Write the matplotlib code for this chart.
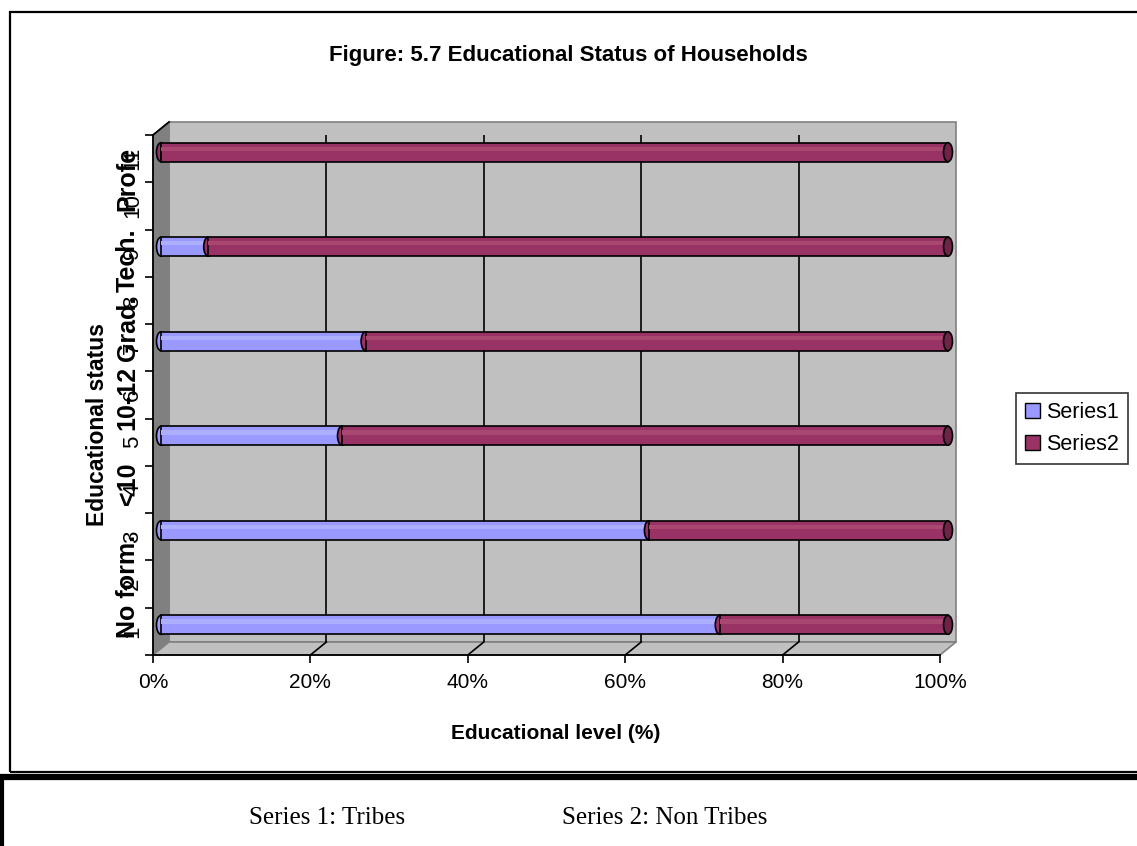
import matplotlib
matplotlib.use("Agg")
import matplotlib.pyplot as plt
import matplotlib.transforms as mtransforms
from matplotlib.patches import Polygon, Ellipse, Rectangle
from matplotlib.lines import Line2D

plt.rcParams['font.family'] = ['Liberation Sans', 'DejaVu Sans']

# data (percent of households in each group)
categories = [str(i) for i in range(1, 12)]
positions = [1, 3, 5, 7, 9, 11]
tribes = [71, 62, 23, 26, 6, 0]
non_tribes = [29, 38, 77, 74, 94, 100]
group_labels = ["No form.", "<10", "10-12", "Grad.", "Tech.", "Profe"]
group_label_y = [1.94, 4.12, 5.93, 7.41, 8.85, 10.58]
x_ticks = [0, 20, 40, 60, 80, 100]
x_tick_labels = ["0%", "20%", "40%", "60%", "80%", "100%"]

color1 = "#9999FF"
color2 = "#993366"
light1 = "#AEAEFF"
light2 = "#A8476F"
cap2 = "#6E2449"

W, H = 1137, 846
fig = plt.figure(figsize=(W / 100, H / 100), dpi=100)


def fx(px):
    return px / W


def fy(py):
    return 1 - py / H


ax = fig.add_axes([fx(153), fy(655), fx(940) - fx(153), fy(135) - fy(655)])
ax.set_xlim(0, 100)
ax.set_ylim(0.5, 11.5)
ax.patch.set_visible(False)
for side in ["top", "right"]:
    ax.spines[side].set_visible(False)
for side in ["left", "bottom"]:
    ax.spines[side].set_color("black")
    ax.spines[side].set_linewidth(1.3)
    ax.spines[side].set_zorder(5)

# depth of the 3d box in pixels
DX, DY = 16, 13
ident = mtransforms.IdentityTransform()


def shift(f):
    return ax.transData + mtransforms.Affine2D().translate(f * DX, f * DY)


def P(x, y, f):
    px, py = ax.transData.transform((x, y))
    return (px + f * DX, py + f * DY)


# walls and floor
ax.add_patch(Rectangle((0, 0.5), 100, 11, transform=shift(1), facecolor="#C0C0C0",
                       edgecolor="#808080", lw=1.2, zorder=0, clip_on=False))
ax.add_patch(Polygon([P(0, 0.5, 0), P(0, 11.5, 0), P(0, 11.5, 1), P(0, 0.5, 1)],
                     closed=True, transform=ident, facecolor="#808080",
                     edgecolor="#808080", lw=1, zorder=0.5, clip_on=False))
ax.add_patch(Polygon([P(0, 0.5, 0), P(100, 0.5, 0), P(100, 0.5, 1), P(0, 0.5, 1)],
                     closed=True, transform=ident, facecolor="#C0C0C0",
                     edgecolor="#808080", lw=1.2, zorder=0.5, clip_on=False))

# gridlines on the back wall and floor
ax.vlines(x_ticks[1:-1], 0.5, 11.5, transform=shift(1), colors="black", lw=1.2, zorder=1)
for xv in x_ticks[1:-1]:
    a, b = P(xv, 0.5, 0), P(xv, 0.5, 1)
    ax.add_line(Line2D([a[0], b[0]], [a[1], b[1]], transform=ident, color="black",
                       lw=1.2, zorder=1, clip_on=False))
a, b = P(0, 11.5, 0), P(0, 11.5, 1)
ax.add_line(Line2D([a[0], b[0]], [a[1], b[1]], transform=ident, color="black",
                   lw=1.3, zorder=5, clip_on=False))

# cylinder bars, 100% stacked
bar_h = 0.4
bh_px = P(0, bar_h, 0)[1] - P(0, 0, 0)[1]
cap_w = 9

ax.barh(positions, tribes, height=bar_h, color=color1, edgecolor="black", lw=1.2,
        transform=shift(0.5), zorder=3, clip_on=False)
ax.barh([p + 0.07 for p in positions], tribes, height=0.09, color=light1, lw=0,
        transform=shift(0.5), zorder=3.05, clip_on=False)
ax.barh(positions, non_tribes, left=tribes, height=bar_h, color=color2, edgecolor="black",
        lw=1.2, transform=shift(0.5), zorder=3.4, clip_on=False)
ax.barh([p + 0.07 for p in positions], non_tribes, left=tribes, height=0.09, color=light2,
        lw=0, transform=shift(0.5), zorder=3.45, clip_on=False)

for pos, t, n in zip(positions, tribes, non_tribes):
    first = color1 if t > 0 else color2
    ax.add_patch(Ellipse(P(0, pos, 0.5), cap_w, bh_px, transform=ident, facecolor=first,
                         edgecolor="black", lw=1.2, zorder=2.9, clip_on=False))
    if t > 0:
        ax.add_patch(Ellipse(P(t, pos, 0.5), cap_w, bh_px, transform=ident, facecolor=color2,
                             edgecolor="black", lw=1.2, zorder=3.2, clip_on=False))
    ax.add_patch(Ellipse(P(t + n, pos, 0.5), cap_w, bh_px, transform=ident, facecolor=cap2,
                         edgecolor="black", lw=1.2, zorder=3.6, clip_on=False))

# axes ticks and labels
ax.set_xticks(x_ticks, labels=x_tick_labels, fontsize=15)
ax.tick_params(axis="x", length=6, width=1.2, direction="out", pad=7)
ax.set_yticks(range(1, 12), labels=categories, fontsize=16, rotation=90, va="center")
ax.tick_params(axis="y", which="major", length=0, pad=7)
ax.set_yticks([i + 0.5 for i in range(0, 12)], minor=True)
ax.tick_params(axis="y", which="minor", length=6, width=1.2)

blend = mtransforms.blended_transform_factory(ax.transAxes, ax.transData)
for lab, yv in zip(group_labels, group_label_y):
    ax.text(-0.032, yv, lab, transform=blend, rotation=90, ha="center", va="center",
            fontsize=18, fontweight="bold", clip_on=False)

fig.text(fx(568), fy(55), "Figure: 5.7 Educational Status of Households", ha="center",
         va="center", fontsize=16, fontweight="bold")
fig.text(fx(556), fy(733), "Educational level (%)", ha="center", va="center",
         fontsize=15, fontweight="bold")
fig.text(fx(97), fy(425), "Educational status", ha="center", va="center", rotation=90,
         fontsize=16.5, fontweight="bold")

handles = [Rectangle((0, 0), 1, 1, facecolor=color1, edgecolor="black", lw=1),
           Rectangle((0, 0), 1, 1, facecolor=color2, edgecolor="black", lw=1)]
leg = fig.legend(handles, ["Series1", "Series2"], loc="upper left",
                 bbox_to_anchor=(fx(1016), fy(393)), fontsize=15.5, frameon=True,
                 fancybox=False, edgecolor="black", handlelength=0.7, handleheight=0.7,
                 handletextpad=0.3, borderpad=0.4, labelspacing=0.55, borderaxespad=0)
leg.get_frame().set_linewidth(1.2)

# chart border, separator and caption
fig.add_artist(Rectangle((fx(10), fy(772)), 1.2, fy(12) - fy(772), transform=fig.transFigure,
                         fill=False, edgecolor="black", lw=1.6))
fig.add_artist(Line2D([0, 1], [fy(777), fy(777)], transform=fig.transFigure, color="black", lw=4.5))
fig.add_artist(Line2D([fx(2), fx(2)], [fy(777), 0], transform=fig.transFigure, color="black", lw=3))
fig.text(fx(327), fy(818), "Series 1: Tribes", ha="center", va="center", fontsize=18,
         family="Liberation Serif")
fig.text(fx(665), fy(818), "Series 2: Non Tribes", ha="center", va="center", fontsize=18,
         family="Liberation Serif")

fig.savefig("out.png", dpi=100)
